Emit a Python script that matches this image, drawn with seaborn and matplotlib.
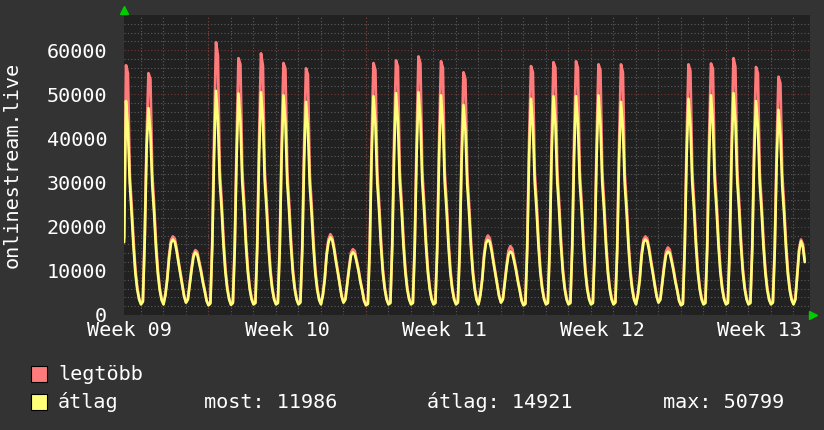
import numpy as np
import pandas as pd
import matplotlib.pyplot as plt
import seaborn as sns
from matplotlib.patches import Rectangle

sns.set_theme(style="dark", rc={"axes.facecolor": "#212121", "figure.facecolor": "#333333"})
plt.rcParams['font.family'] = 'DejaVu Sans Mono'

# 2-hour samples, one row per day (first day starts at its 3rd bin, last day is partial)
legtobb = [
    17500, 56600, 54800, 32000, 25000, 17000, 10500, 6300, 3800, 2600,
    3200, 18500, 40000, 54800, 53500, 32000, 25000, 16500, 10200, 6100, 3700, 2600,
    4700, 8400, 13600, 17000, 17800, 17300, 15200, 12300, 9700, 7000, 4400, 2900,
    3700, 7300, 10800, 13800, 14700, 14300, 12300, 10200, 7700, 5600, 3300, 2300,
    2800, 16500, 40500, 61800, 58800, 33000, 26000, 17300, 10700, 6400, 3800, 2500,
    2900, 16000, 39500, 58200, 56800, 32800, 25800, 17000, 10500, 6300, 3800, 2600,
    2900, 16200, 40000, 59300, 56500, 32800, 25700, 17000, 10500, 6300, 3800, 2600,
    2900, 16000, 39500, 57100, 55800, 32500, 25500, 17000, 10400, 6300, 3800, 2600,
    3000, 15500, 38500, 55900, 54500, 32000, 25000, 16600, 10200, 6200, 3700, 2600,
    4700, 8400, 14000, 17200, 18300, 17600, 15400, 12500, 9900, 7100, 4400, 2900,
    3700, 7300, 11000, 14100, 14900, 14500, 12500, 10400, 7800, 5700, 3300, 2300,
    2700, 16000, 39500, 57100, 55500, 32500, 25500, 17000, 10400, 6300, 3800, 2600,
    2900, 16500, 40000, 57700, 56300, 32800, 25700, 17000, 10500, 6300, 3800, 2600,
    2900, 16300, 40000, 58600, 57000, 32700, 25600, 17000, 10500, 6300, 3800, 2600,
    2900, 16000, 39500, 57500, 56000, 32500, 25500, 17000, 10400, 6300, 3800, 2600,
    3000, 15500, 38000, 55000, 53500, 32000, 25000, 16600, 10200, 6200, 3700, 2600,
    4700, 8400, 13800, 17000, 18000, 17400, 15200, 12300, 9700, 7000, 4400, 2900,
    3700, 7600, 11400, 14600, 15600, 15000, 12800, 10600, 8000, 5800, 3400, 2300,
    2700, 16000, 39500, 56400, 55000, 32500, 25500, 17000, 10400, 6300, 3800, 2600,
    2900, 16200, 40000, 57300, 56000, 32700, 25600, 17000, 10500, 6300, 3800, 2600,
    2900, 16200, 40000, 57500, 56000, 32700, 25600, 17000, 10500, 6300, 3800, 2600,
    2900, 16000, 39500, 56800, 55500, 32500, 25500, 17000, 10400, 6300, 3800, 2600,
    3000, 15800, 39000, 56800, 55000, 32200, 25200, 16700, 10300, 6200, 3700, 2600,
    4700, 8400, 14000, 17100, 17800, 17300, 15200, 12400, 9800, 7000, 4400, 2900,
    3700, 7500, 11300, 14400, 15300, 14800, 12700, 10500, 7900, 5700, 3300, 2300,
    2700, 16000, 39500, 56800, 55300, 32500, 25500, 17000, 10400, 6300, 3800, 2600,
    2900, 16200, 40000, 57000, 55800, 32700, 25600, 17000, 10500, 6300, 3800, 2600,
    2900, 16300, 40000, 58200, 56200, 32800, 25700, 17000, 10500, 6300, 3800, 2600,
    2900, 15800, 39000, 56200, 54800, 32300, 25300, 16800, 10300, 6200, 3700, 2600,
    3000, 15500, 37500, 54000, 52500, 31800, 24800, 16400, 10100, 6100, 3700, 2600,
    3700, 9400, 15000, 17100, 16100, 12500,
]

atlag = [
    16500, 48500, 42500, 30000, 23000, 15500, 9500, 5800, 3500, 2400,
    3000, 17000, 38000, 46900, 41500, 29500, 23000, 15000, 9300, 5600, 3400, 2400,
    4500, 8000, 13000, 16300, 17100, 16600, 14500, 11800, 9300, 6700, 4200, 2800,
    3500, 7000, 10300, 13200, 14200, 13700, 11800, 9800, 7400, 5400, 3200, 2200,
    2600, 15500, 36500, 50799, 44300, 30500, 24000, 15800, 9700, 5900, 3500, 2300,
    2700, 15000, 36000, 50200, 44000, 30200, 23800, 15600, 9600, 5800, 3500, 2400,
    2700, 15200, 36300, 50500, 44500, 30300, 23700, 15600, 9600, 5800, 3500, 2400,
    2700, 15000, 36000, 49800, 43800, 30000, 23500, 15500, 9500, 5800, 3500, 2400,
    2800, 14500, 35000, 48300, 42500, 29500, 23000, 15200, 9300, 5700, 3400, 2400,
    4500, 8000, 13500, 16500, 17600, 17000, 14800, 12000, 9500, 6800, 4200, 2800,
    3500, 7000, 10500, 13500, 14200, 13800, 12000, 10000, 7500, 5500, 3200, 2200,
    2500, 15000, 36000, 49600, 43500, 30000, 23500, 15500, 9500, 5800, 3500, 2400,
    2700, 15500, 36500, 50300, 44000, 30300, 23700, 15600, 9600, 5800, 3500, 2400,
    2700, 15300, 36500, 50500, 44300, 30200, 23600, 15600, 9600, 5800, 3500, 2400,
    2700, 15000, 36000, 49800, 43500, 30000, 23500, 15500, 9500, 5800, 3500, 2400,
    2800, 14500, 35000, 47600, 42000, 29500, 23000, 15200, 9300, 5700, 3400, 2400,
    4500, 8000, 13200, 16300, 17000, 16600, 14500, 11800, 9300, 6700, 4200, 2800,
    3500, 7200, 10800, 13700, 14400, 14000, 12200, 10100, 7600, 5500, 3200, 2200,
    2500, 15000, 36000, 49000, 43000, 30000, 23500, 15500, 9500, 5800, 3500, 2400,
    2700, 15200, 36300, 49600, 43500, 30200, 23600, 15600, 9600, 5800, 3500, 2400,
    2700, 15200, 36300, 49600, 43600, 30200, 23600, 15600, 9600, 5800, 3500, 2400,
    2700, 15000, 36000, 49800, 43500, 30000, 23500, 15500, 9500, 5800, 3500, 2400,
    2800, 14800, 35500, 48300, 42500, 29700, 23200, 15300, 9400, 5700, 3400, 2400,
    4500, 8000, 13400, 16400, 17100, 16700, 14600, 11900, 9400, 6700, 4200, 2800,
    3500, 7100, 10700, 13600, 14400, 14000, 12100, 10000, 7500, 5500, 3200, 2200,
    2500, 15000, 36000, 49000, 43200, 30000, 23500, 15500, 9500, 5800, 3500, 2400,
    2700, 15200, 36300, 49800, 43600, 30200, 23600, 15600, 9600, 5800, 3500, 2400,
    2700, 15300, 36500, 50300, 44000, 30300, 23700, 15600, 9600, 5800, 3500, 2400,
    2700, 14800, 35500, 48500, 42800, 29800, 23300, 15400, 9500, 5700, 3400, 2400,
    2800, 14500, 34500, 46500, 41000, 29200, 22800, 15000, 9200, 5600, 3400, 2400,
    3500, 9000, 14500, 16700, 15500, 11986,
]

week_labels = ["Week 09", "Week 10", "Week 11", "Week 12", "Week 13"]
week_mid_hours = [12, 180, 348, 516, 684]     # label centres (middle of each week)
monday_hours = [96, 264, 432, 600]            # week boundaries
stats = {"most": "11986", "átlag": "14921", "max": "50799"}

# sample times in hours (centre of each 2h consolidation step)
hours = 6 + 2 * np.arange(len(atlag))
df = pd.DataFrame({"hour": hours, "legtöbb": legtobb, "átlag": atlag})

red = "#ff7a7a"
yellow = "#ffff78"

fig = plt.figure(figsize=(8.24, 4.30), dpi=100)
ax = fig.add_axes([124 / 824, 1 - 315 / 430, 686 / 824, 300 / 430])

sns.lineplot(data=df, x="hour", y="legtöbb", color=red, lw=2.0,
             estimator=None, ax=ax, zorder=3)
sns.lineplot(data=df, x="hour", y="átlag", color=yellow, lw=1.9,
             estimator=None, ax=ax, zorder=4)

ax.set_xlim(5.87, 737.6)
ax.set_ylim(0, 68000)

# grid like rrdtool
ax.set_yticks(np.arange(0, 68000, 10000))
ax.set_yticks(np.arange(0, 68000, 2000), minor=True)
ax.set_xticks(week_mid_hours)
ax.set_xticklabels(week_labels)
ax.set_xticks(np.arange(24, 737, 24), minor=True)
ax.grid(False)
ax.grid(which="minor", color="#5c5c5c", ls=(0, (1, 2)), lw=0.8)
ax.yaxis.grid(True, which="major", color="#7a3535", ls=(0, (1, 2)), lw=0.8)
for h in monday_hours:
    ax.axvline(h, color="#7a3535", ls=(0, (1, 2)), lw=0.8, zorder=1)
ax.set_axisbelow(True)

for s in ax.spines.values():
    s.set_visible(False)
ax.tick_params(axis="both", which="both", length=0, colors="white", labelsize=14.5)
ax.tick_params(axis="y", pad=12)
ax.tick_params(axis="x", pad=4.5)
ax.set_xlabel("")
ax.set_ylabel("")

# axis arrows
ax.plot([0], [1.017], marker="^", color="#00cc00", ms=6, transform=ax.transAxes, clip_on=False)
ax.plot([1.005], [0], marker=">", color="#00cc00", ms=6, transform=ax.transAxes, clip_on=False)

fig.text(12 / 824, 1 - 165 / 430, "onlinestream.live", rotation=90, ha="center", va="center",
         color="white", fontsize=14.5)

# legend
def px(x, y):
    return x / 824, 1 - y / 430

for (y, c, name) in [(374, red, "legtöbb"), (402, yellow, "átlag")]:
    fig.patches.append(Rectangle(px(31, y + 8), 16 / 824, 16 / 430, transform=fig.transFigure,
                                 facecolor=c, edgecolor="black", lw=0.8))
    fig.text(*px(58, y), name, ha="left", va="center", color="white", fontsize=14.5)

fig.text(*px(204, 402), f"most: {stats['most']}", ha="left", va="center", color="white", fontsize=14.5)
fig.text(*px(427, 402), f"átlag: {stats['átlag']}", ha="left", va="center", color="white", fontsize=14.5)
fig.text(*px(663, 402), f"max: {stats['max']}", ha="left", va="center", color="white", fontsize=14.5)

fig.savefig("out.png", dpi=100, facecolor=fig.get_facecolor())
